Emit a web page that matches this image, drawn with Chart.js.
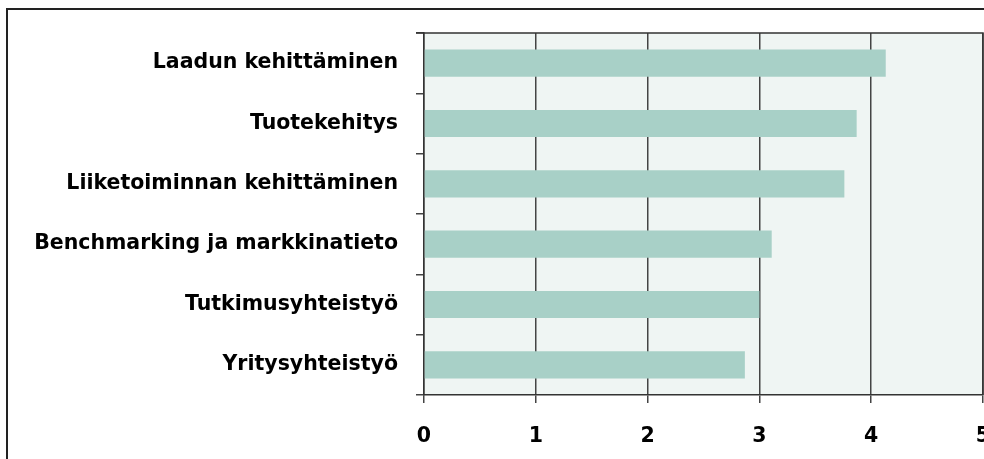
<!DOCTYPE html>
<html>
<head>
<meta charset="utf-8">
<script src="https://cdn.jsdelivr.net/npm/chart.js@4/dist/chart.umd.min.js"></script>
<style>
  html, body { margin: 0; padding: 0; background: #fff; }
  #wrap { width: 984px; height: 459px; position: relative; }
</style>
</head>
<body>
<div id="wrap"><canvas id="grafico"></canvas></div>
<script>
  // Datos del gráfico
  const categorias = [
    'Laadun kehittäminen',
    'Tuotekehitys',
    'Liiketoiminnan kehittäminen',
    'Benchmarking ja markkinatieto',
    'Tutkimusyhteistyö',
    'Yritysyhteistyö'
  ];
  const valores = [4.13, 3.87, 3.76, 3.11, 3.0, 2.87];
  const ejeMin = 0;
  const ejeMax = 5;

  const fuente = { family: 'DejaVu Sans, sans-serif', size: 20.5, weight: 'bold' };

  // Fondo del área y marco exterior
  const fondoPlugin = {
    id: 'fondo',
    beforeDraw(chart) {
      const { ctx, chartArea: a } = chart;
      ctx.save();
      ctx.fillStyle = '#eff5f3';
      ctx.fillRect(a.left, a.top, a.right - a.left, a.bottom - a.top);
      // marco exterior (cortado por el borde)
      ctx.strokeStyle = '#222';
      ctx.lineWidth = 2;
      ctx.beginPath();
      ctx.moveTo(7, 470);
      ctx.lineTo(7, 9);
      ctx.lineTo(990, 9);
      ctx.stroke();
      ctx.restore();
    },
    afterDraw(chart) {
      const { ctx, chartArea: a } = chart;
      ctx.save();
      ctx.strokeStyle = '#333';
      ctx.lineWidth = 1.5;
      ctx.beginPath();
      ctx.moveTo(a.left - 8, a.top);
      ctx.lineTo(a.right, a.top);
      ctx.lineTo(a.right, a.bottom);
      ctx.stroke();
      ctx.restore();
    }
  };

  new Chart(document.getElementById('grafico'), {
    type: 'bar',
    data: {
      labels: categorias,
      datasets: [{
        data: valores,
        backgroundColor: '#a8d0c7',
        borderWidth: 0,
        categoryPercentage: 1,
        barPercentage: 0.45
      }]
    },
    options: {
      indexAxis: 'y',
      responsive: true,
      maintainAspectRatio: false,
      animation: false,
      layout: { padding: { top: 33, right: 1, left: 0, bottom: 0 } },
      plugins: {
        legend: { display: false },
        tooltip: { enabled: false }
      },
      scales: {
        x: {
          min: ejeMin,
          max: ejeMax,
          afterFit(scale) {
            scale.height = 64;
            scale.paddingLeft = 0;
            scale.paddingRight = 0;
          },
          ticks: {
            stepSize: 1,
            color: '#000',
            padding: 21,
            font: fuente
          },
          grid: {
            color: '#444',
            lineWidth: 1.5,
            tickLength: 8
          },
          border: { color: '#333', width: 1.5 }
        },
        y: {
          afterFit(scale) {
            scale.width = 424;
          },
          ticks: {
            color: '#000',
            padding: 18,
            font: fuente
          },
          grid: {
            offset: true,
            drawOnChartArea: false,
            color: '#444',
            lineWidth: 1.5,
            tickLength: 8
          },
          border: { color: '#333', width: 1.5 }
        }
      }
    },
    plugins: [fondoPlugin]
  });
</script>
</body>
</html>
